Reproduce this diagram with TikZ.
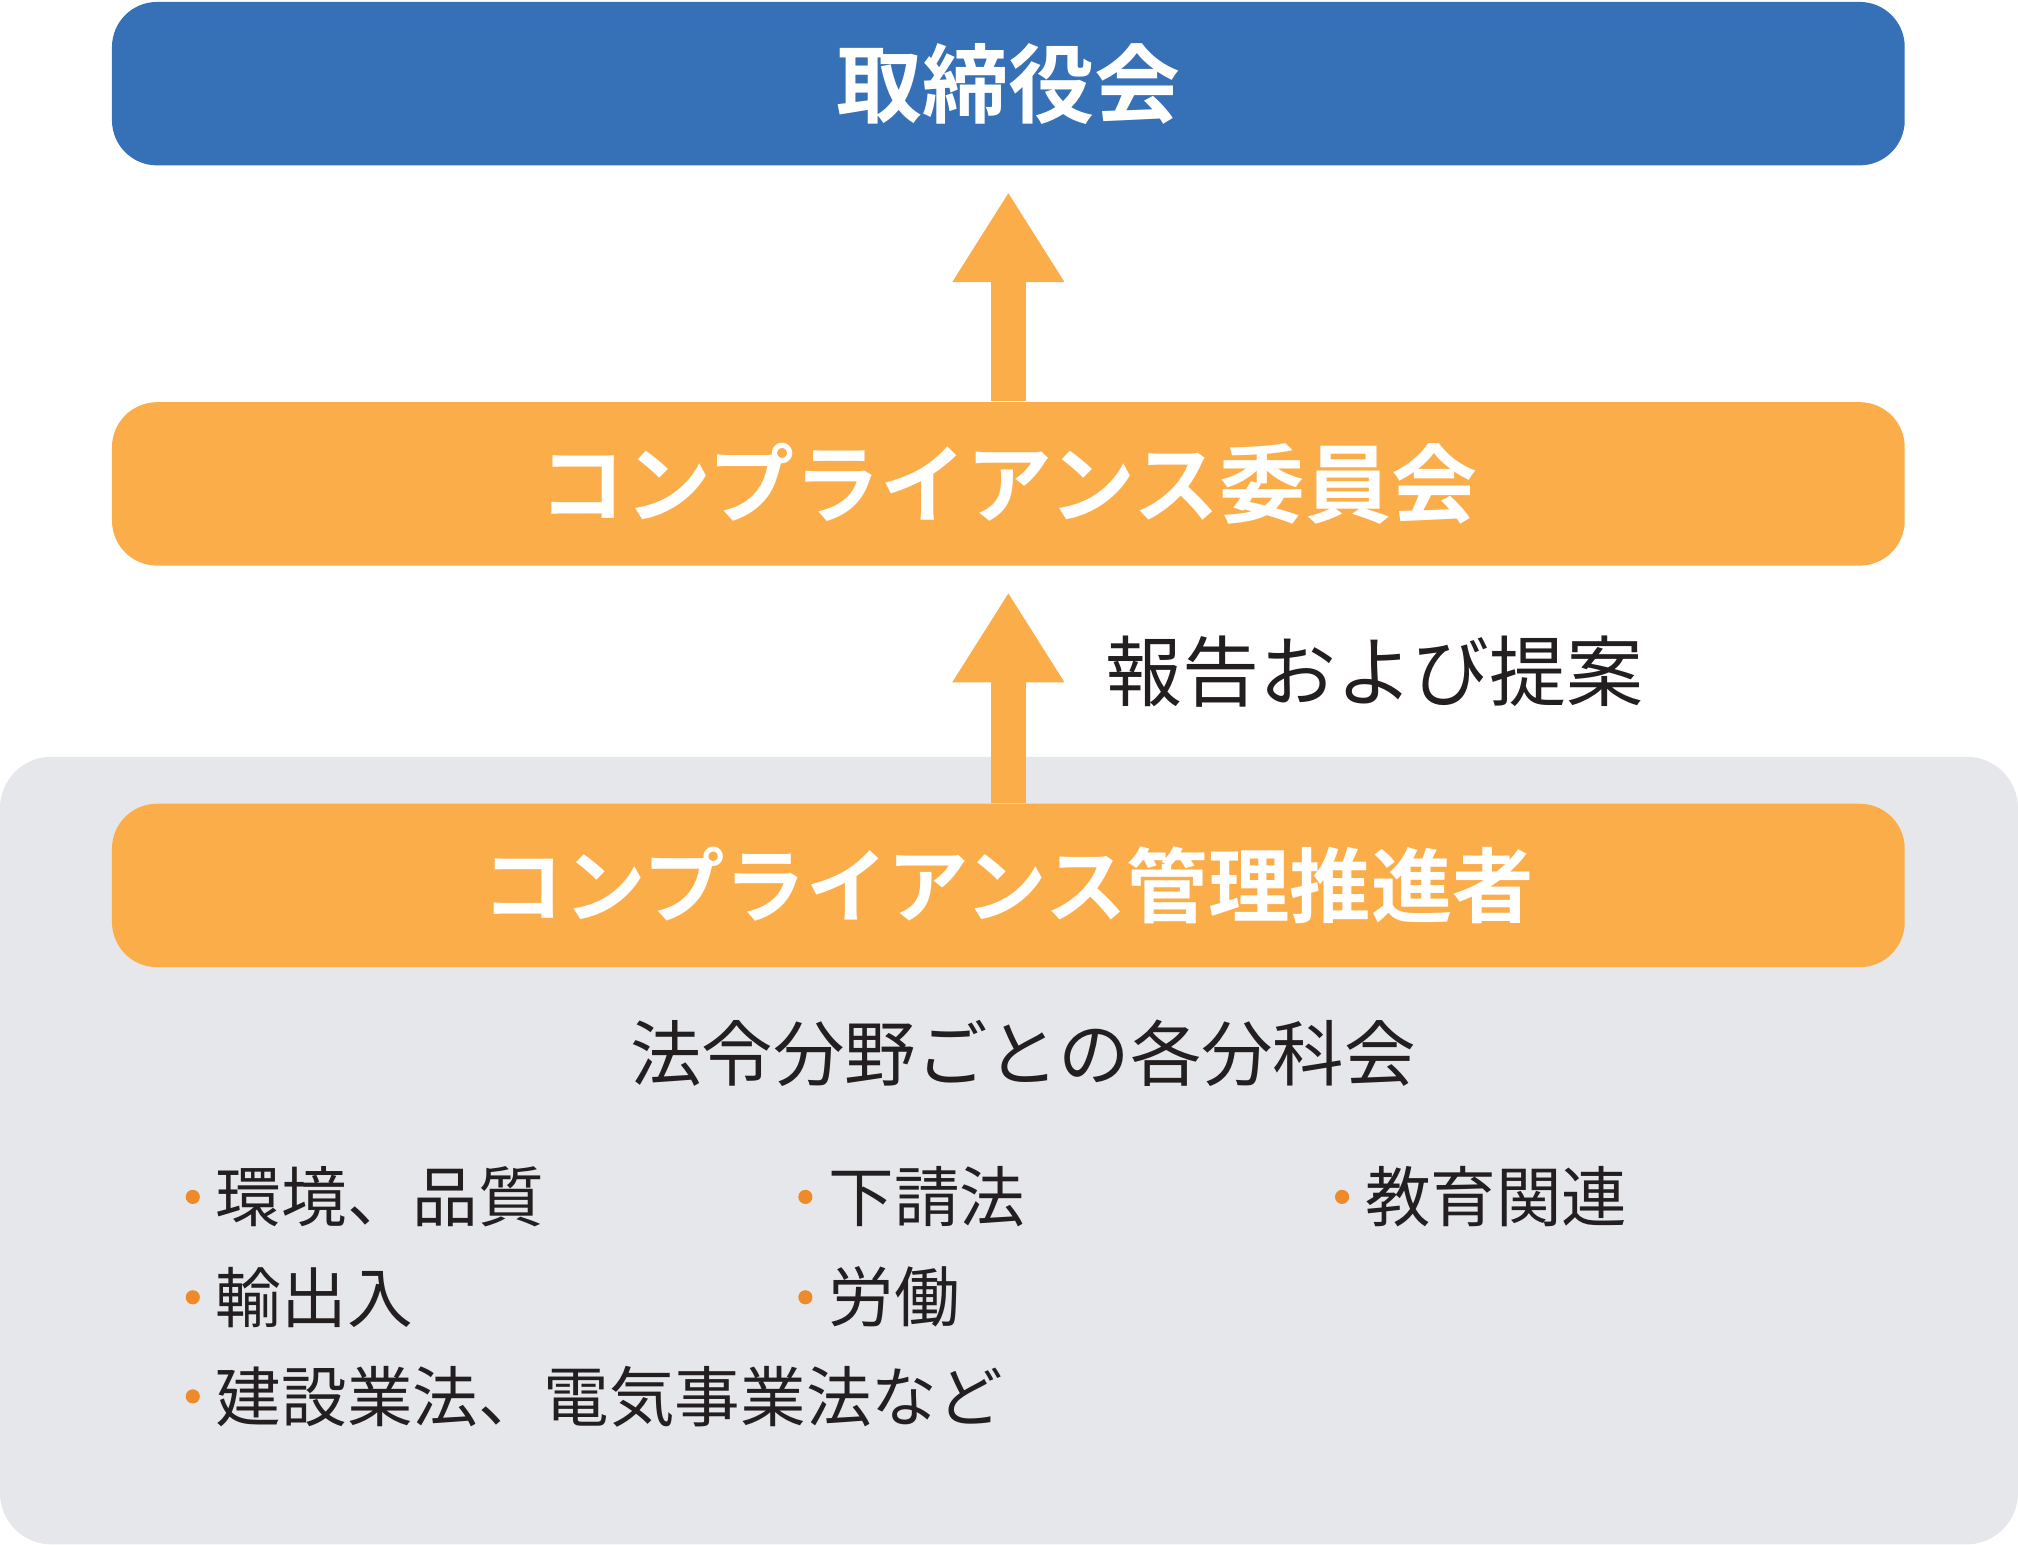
\documentclass[tikz,border=0pt]{standalone}
\usepackage{fontspec}
\setmainfont{Noto Sans CJK JP}
\newfontfamily\jpbold{Noto Sans CJK JP Bold}
\usetikzlibrary{arrows.meta,positioning}
\definecolor{boardblue}{HTML}{3670B6}
\definecolor{comporange}{HTML}{FBAD4A}
\definecolor{dotorange}{HTML}{EE8A2A}
\definecolor{groupgray}{HTML}{E6E7EA}
\definecolor{textdark}{HTML}{231F20}
\begin{document}
\begin{tikzpicture}[x=0.1mm,y=-0.1mm,
    bar/.style={rectangle,rounded corners=3.5mm,minimum width=139.3mm,minimum height=12.7mm,inner sep=0pt,text=white},
    up/.style={comporange,line width=2.7mm,-{Triangle[width=8.2mm,length=7mm]}},
    item/.style={anchor=west,inner sep=0pt,text=textdark,font=\fontsize{14.5}{16}\selectfont},
    dot/.style={circle,fill=dotorange,inner sep=0pt,minimum size=1.1mm}]
  \useasboundingbox (0,0) rectangle (1568,1200);
  \fill[groupgray,rounded corners=4mm] (0,588) rectangle (1568,1200);

  \node[bar,fill=boardblue,font=\jpbold\fontsize{19}{22}\selectfont] (board) at (783.5,65) {取締役会};
  \node[bar,fill=comporange,font=\jpbold\fontsize{19}{22}\selectfont] (committee) at (783.5,376) {コンプライアンス委員会};
  \node[bar,fill=comporange,font=\jpbold\fontsize{18}{22}\selectfont] (promoter) at (783.5,688) {コンプライアンス管理推進者};

  \draw[up,shorten >=2mm] (committee.north) -- (board.south);
  \draw[up,shorten >=2mm] (promoter.north) -- (committee.south);
  \node[text=textdark,font=\fontsize{17}{20}\selectfont] (report) at (1068,522) {報告および提案};

  \node[text=textdark,font=\fontsize{15.8}{18}\selectfont] (groups) at (795,818) {法令分野ごとの各分科会};

  \node[item] (env) at (167,930) {環境、品質};
  \node[item] (sub) at (643,930) {下請法};
  \node[item] (edu) at (1060,930) {教育関連};
  \node[item] (trade) at (167,1008) {輸出入};
  \node[item] (labor) at (643,1008) {労働};
  \node[item] (build) at (167,1085) {建設業法、電気事業法など};
  \foreach \n in {env,sub,edu,trade,labor,build}
    \node[dot,left=1.1mm of \n.west] (dot-\n) {};
\end{tikzpicture}
\end{document}
